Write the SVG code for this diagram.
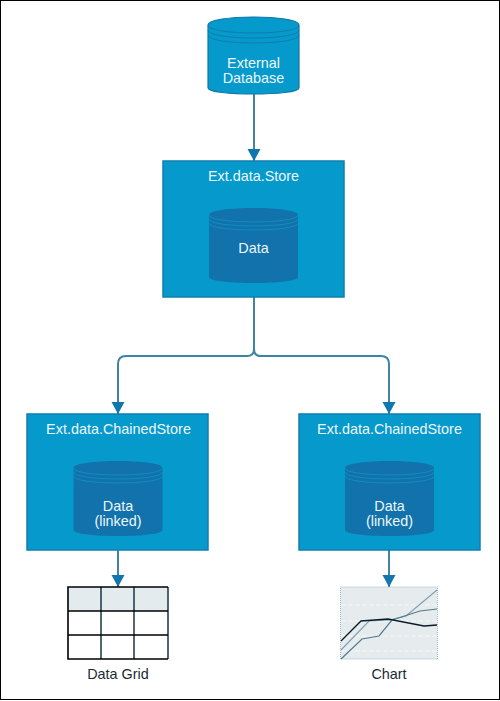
<svg xmlns="http://www.w3.org/2000/svg" width="500" height="701" viewBox="0 0 500 701">
<style>
text{font-family:"Liberation Sans",Arial,sans-serif;font-size:14.400px;text-anchor:middle}
.w{fill:#eef6fa}
.k{fill:#1c2a33}
.box{fill:#059acb;stroke:#0f7fb0;stroke-width:1.5}
.cyl{fill:#1272ab;stroke:none}
.ring{fill:none;stroke:#0f9ccb;stroke-width:.8;stroke-opacity:.8}
.ext{fill:#059acb;stroke:#0f77a8;stroke-width:1.2}
.extring{fill:none;stroke:#1175a8;stroke-width:.8}
.c{fill:none;stroke:#3f83a6;stroke-width:2}
.g{fill:none;stroke:#000;stroke-width:1.6}
.v{fill:none;stroke:#1a3444;stroke-width:1.5}
</style>
<defs>
<marker id="a" markerUnits="userSpaceOnUse" markerWidth="13" markerHeight="14" refX="12" refY="6.500" orient="auto"><path d="M0 0L12 6.500L0 13Z" fill="#0f77ad"/></marker>
<g id="data"><path class="cyl" d="M-44.500 -31C-44.500 -40.300 44.500 -40.300 44.500 -31V31C44.500 39 -44.500 39 -44.500 31Z"/>
<path class="ring" d="M-44.500 -31C-44.500 -21.700 44.500 -21.700 44.500 -31M-44.500 -27C-44.500 -17.700 44.500 -17.700 44.500 -27M-44.500 -23C-44.500 -13.700 44.500 -13.700 44.500 -23"/></g>
</defs>
<rect x=".5" y=".5" width="499" height="699" fill="#fff" stroke="#000"/>
<g id="connectors">
<path class="c" d="M254 94V161" marker-end="url(#a)"/>
<path class="c" d="M254 297V349Q254 356 247 356H126Q118 356 118 364V414" marker-end="url(#a)"/>
<path class="c" d="M254 349Q254 356 261 356H381Q389 356 389 364V414" marker-end="url(#a)"/>
<path class="c" d="M118 550V587" marker-end="url(#a)"/>
<path class="c" d="M389 550V587" marker-end="url(#a)"/>
</g>
<g id="external-database">
<path class="ext" d="M208 25C208 14.300 299 14.300 299 25V88C299 96 208 96 208 88Z"/>
<path class="extring" d="M208 25C208 35.700 299 35.700 299 25M208 30C208 40.700 299 40.700 299 30M208 35C208 45.700 299 45.700 299 35"/>
<text class="w" x="253.500" y="67.500">External</text><text class="w" x="253.500" y="83">Database</text>
</g>
<g id="store">
<rect class="box" x="163" y="161" width="181" height="136"/>
<text class="w" x="253.500" y="181">Ext.data.Store</text>
<use href="#data" x="253.500" y="246"/>
<text class="w" x="253.500" y="253">Data</text>
</g>
<g id="chained-left">
<rect class="box" x="27" y="414" width="181" height="136"/>
<text class="w" x="118.500" y="434">Ext.data.ChainedStore</text>
<use href="#data" x="118" y="499"/>
<text class="w" x="118" y="511">Data</text><text class="w" x="118" y="526">(linked)</text>
</g>
<g id="chained-right">
<rect class="box" x="299" y="414" width="181" height="136"/>
<text class="w" x="389.500" y="434">Ext.data.ChainedStore</text>
<use href="#data" x="389.500" y="499"/>
<text class="w" x="389.500" y="511">Data</text><text class="w" x="389.500" y="526">(linked)</text>
</g>
<g id="data-grid">
<rect x="68" y="587" width="100" height="24" fill="#e4ebee"/>
<path class="v" d="M101 587V659M134 587V659M168 587V659"/>
<path class="g" d="M168 587H68V659H168M68 611H168M68 635H168"/>
<text class="k" x="118" y="679">Data Grid</text>
</g>
<g id="chart">
<rect x="340.500" y="587" width="97" height="72" fill="#e6ecee" stroke="#9fbac6" stroke-dasharray="1 1"/>
<path d="M341 605H437M341 621H437M341 636H437M341 651H437" stroke="#fff" stroke-opacity=".6" stroke-dasharray="5 2" fill="none"/>
<path d="M341 650L369 621L390 620L406 616L437 590" fill="none" stroke="#7fa2b3" stroke-width="1.200"/>
<path d="M341 659L362 639L379 636L392 620L420 611L437 609" fill="none" stroke="#55798c" stroke-width="1.200"/>
<path d="M341 641L361 621L388 619L424 626L437 625" fill="none" stroke="#0a1c28" stroke-width="1.300"/>
<text class="k" x="389" y="679">Chart</text>
</g>
</svg>
